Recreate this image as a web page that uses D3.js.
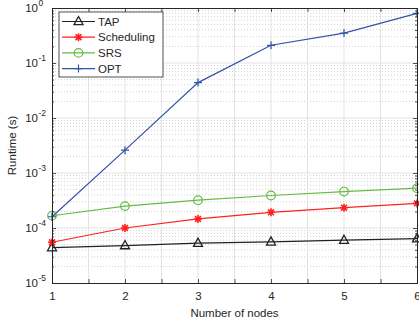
<!DOCTYPE html>
<html>
<head>
<meta charset="utf-8">
<script src="https://cdn.jsdelivr.net/npm/d3@7"></script>
<style>
  body { margin: 0; background: #fff; }
  svg { font-family: "Liberation Sans", Arial, sans-serif; }
</style>
</head>
<body>
<svg id="chart"></svg>
<script>
const WIDTH = 419;
const HEIGHT = 324;

// data
const nodes = [1, 2, 3, 4, 5, 6];
const tap = [4.4e-5, 4.8e-5, 5.3e-5, 5.6e-5, 6.0e-5, 6.4e-5];
const scheduling = [5.5e-5, 1.0e-4, 1.46e-4, 1.93e-4, 2.34e-4, 2.8e-4];
const srs = [1.67e-4, 2.5e-4, 3.2e-4, 3.9e-4, 4.6e-4, 5.3e-4];
const opt = [1.6e-4, 2.6e-3, 4.4e-2, 0.21, 0.35, 0.8];

const seriesNames = ["TAP", "Scheduling", "SRS", "OPT"];
const seriesValues = [tap, scheduling, srs, opt];
const seriesColors = ["#222222", "#ff2020", "#66bb44", "#3352a8"];
const seriesMarkers = ["triangle", "asterisk", "circle", "plus"];

const xTicks = [1, 2, 3, 4, 5, 6];
const yExponents = [-5, -4, -3, -2, -1, 0];

const margin = {top: 8, right: 2, bottom: 41, left: 52};

function drawMarker(g, type, color){
    if (type == "triangle") {
        g.append("path")
            .attr("d", "M0,-5L4.5,3.2L-4.5,3.2Z")
            .attr("fill", "none").attr("stroke", color).attr("stroke-width", 1.3);
    } else if (type == "circle") {
        g.append("circle").attr("r", 4.3)
            .attr("fill", "none").attr("stroke", color).attr("stroke-width", 1.2);
    } else if (type == "plus") {
        g.append("path").attr("d", "M-4,0H4M0,-4V4")
            .attr("stroke", color).attr("stroke-width", 1.2);
    } else {
        // asterisk
        g.append("path").attr("d", "M-4,0H4M0,-4V4M-2.9,-2.9L2.9,2.9M-2.9,2.9L2.9,-2.9")
            .attr("stroke", color).attr("stroke-width", 1.6);
    }
}

function main(){
    var svg = d3.select("#chart")
        .attr("width", WIDTH)
        .attr("height", HEIGHT);

    var x = d3.scaleLinear()
        .domain([1, 6])
        .range([margin.left, WIDTH - margin.right]);
    var y = d3.scaleLog()
        .domain([1e-5, 1])
        .range([HEIGHT - margin.bottom, margin.top]);

    var x0 = x.range()[0], x1 = x.range()[1];
    var y0 = y.range()[0], y1 = y.range()[1];

    var grid = svg.append("g");

    // minor grid (dotted) for the log axis
    var minor = [];
    yExponents.slice(0, -1).forEach(e => {
        for (let k = 2; k <= 9; k++) minor.push(k * Math.pow(10, e));
    });
    grid.selectAll("line.ym").data(minor).enter().append("line")
        .attr("x1", x0).attr("x2", x1)
        .attr("y1", d => y(d)).attr("y2", d => y(d))
        .attr("stroke", "#c8c8c8").attr("stroke-width", 0.8)
        .attr("stroke-dasharray", "1,2");

    // major grid
    var xGrid = d3.range(1.5, 6, 0.5);
    grid.selectAll("line.xg").data(xGrid).enter().append("line")
        .attr("x1", d => x(d)).attr("x2", d => x(d))
        .attr("y1", y0).attr("y2", y1)
        .attr("stroke", "#e3e3e3").attr("stroke-width", 1);
    grid.selectAll("line.yg").data(yExponents.slice(1, -1)).enter().append("line")
        .attr("x1", x0).attr("x2", x1)
        .attr("y1", d => y(Math.pow(10, d))).attr("y2", d => y(Math.pow(10, d)))
        .attr("stroke", "#e3e3e3").attr("stroke-width", 1);

    // series
    var line = d3.line().x((d, i) => x(nodes[i])).y(d => y(d));
    seriesValues.forEach((vals, s) => {
        svg.append("path")
            .attr("d", line(vals))
            .attr("fill", "none")
            .attr("stroke", seriesColors[s])
            .attr("stroke-width", 1.2);
        vals.forEach((v, i) => {
            var g = svg.append("g").attr("transform", "translate(" + x(nodes[i]) + "," + y(v) + ")");
            drawMarker(g, seriesMarkers[s], seriesColors[s]);
        });
    });

    // axes
    var axisColor = "#262626";
    var xAxis = d3.axisBottom(x).tickValues(d3.range(1, 6.01, 0.5))
        .tickSize(-4).tickPadding(9)
        .tickFormat(d => Number.isInteger(d) ? d : "");
    var gx = svg.append("g").attr("transform", "translate(0," + y0 + ")").call(xAxis);
    var xTop = d3.axisTop(x).tickValues(d3.range(1, 6.01, 0.5)).tickSize(-4).tickFormat("");
    var gxt = svg.append("g").attr("transform", "translate(0," + y1 + ")").call(xTop);

    var majorY = yExponents.map(e => Math.pow(10, e));
    var yAxis = d3.axisLeft(y).tickValues(majorY).tickSize(-4).tickFormat("");
    var gy = svg.append("g").attr("transform", "translate(" + x0 + ",0)").call(yAxis);
    var yMinor = d3.axisLeft(y).tickValues(minor).tickSize(-2).tickFormat("");
    var gym = svg.append("g").attr("transform", "translate(" + x0 + ",0)").call(yMinor);
    var yRight = d3.axisRight(y).tickValues(majorY).tickSize(-4).tickFormat("");
    var gyr = svg.append("g").attr("transform", "translate(" + x1 + ",0)").call(yRight);
    var yRightMinor = d3.axisRight(y).tickValues(minor).tickSize(-2).tickFormat("");
    var gyrm = svg.append("g").attr("transform", "translate(" + x1 + ",0)").call(yRightMinor);

    [gx, gxt, gy, gym, gyr, gyrm].forEach(g => {
        g.select(".domain").attr("stroke", axisColor).attr("stroke-width", 1);
        g.selectAll(".tick line").attr("stroke", axisColor).attr("stroke-width", 0.8);
    });
    gx.selectAll(".tick text")
        .attr("fill", axisColor).attr("font-size", 11.5)
        .attr("font-family", "Liberation Sans, Arial, sans-serif");

    // y tick labels, 10 with superscript exponent
    var yl = svg.append("g");
    yExponents.forEach(e => {
        var t = yl.append("text")
            .attr("x", 38).attr("y", y(Math.pow(10, e)) + 4)
            .attr("text-anchor", "end")
            .attr("fill", axisColor).attr("font-size", 11.5)
            .text("10");
        yl.append("text")
            .attr("x", 38.5).attr("y", y(Math.pow(10, e)) - 2)
            .attr("fill", axisColor).attr("font-size", 8.5)
            .text(e == 0 ? "0" : "-" + Math.abs(e));
    });

    // axis labels
    svg.append("text")
        .attr("x", (x0 + x1) / 2).attr("y", 317)
        .attr("text-anchor", "middle")
        .attr("fill", axisColor).attr("font-size", 11.5)
        .text("Number of nodes");
    svg.append("text")
        .attr("transform", "translate(16," + ((y0 + y1) / 2) + ") rotate(-90)")
        .attr("text-anchor", "middle")
        .attr("fill", axisColor).attr("font-size", 11.5)
        .text("Runtime (s)");

    // legend
    var lg = svg.append("g").attr("transform", "translate(59,12)");
    lg.append("rect")
        .attr("width", 104).attr("height", 65)
        .attr("fill", "#fff").attr("stroke", axisColor).attr("stroke-width", 0.8);
    seriesNames.forEach((name, s) => {
        var yy = 9.5 + s * 15.7;
        lg.append("line")
            .attr("x1", 3).attr("x2", 36).attr("y1", yy).attr("y2", yy)
            .attr("stroke", seriesColors[s]).attr("stroke-width", 1.2);
        var m = lg.append("g").attr("transform", "translate(19.5," + yy + ")");
        drawMarker(m, seriesMarkers[s], seriesColors[s]);
        lg.append("text")
            .attr("x", 39).attr("y", yy + 4)
            .attr("fill", axisColor).attr("font-size", 11.5)
            .text(name);
    });
}

window.addEventListener("load", main);
</script>
</body>
</html>
